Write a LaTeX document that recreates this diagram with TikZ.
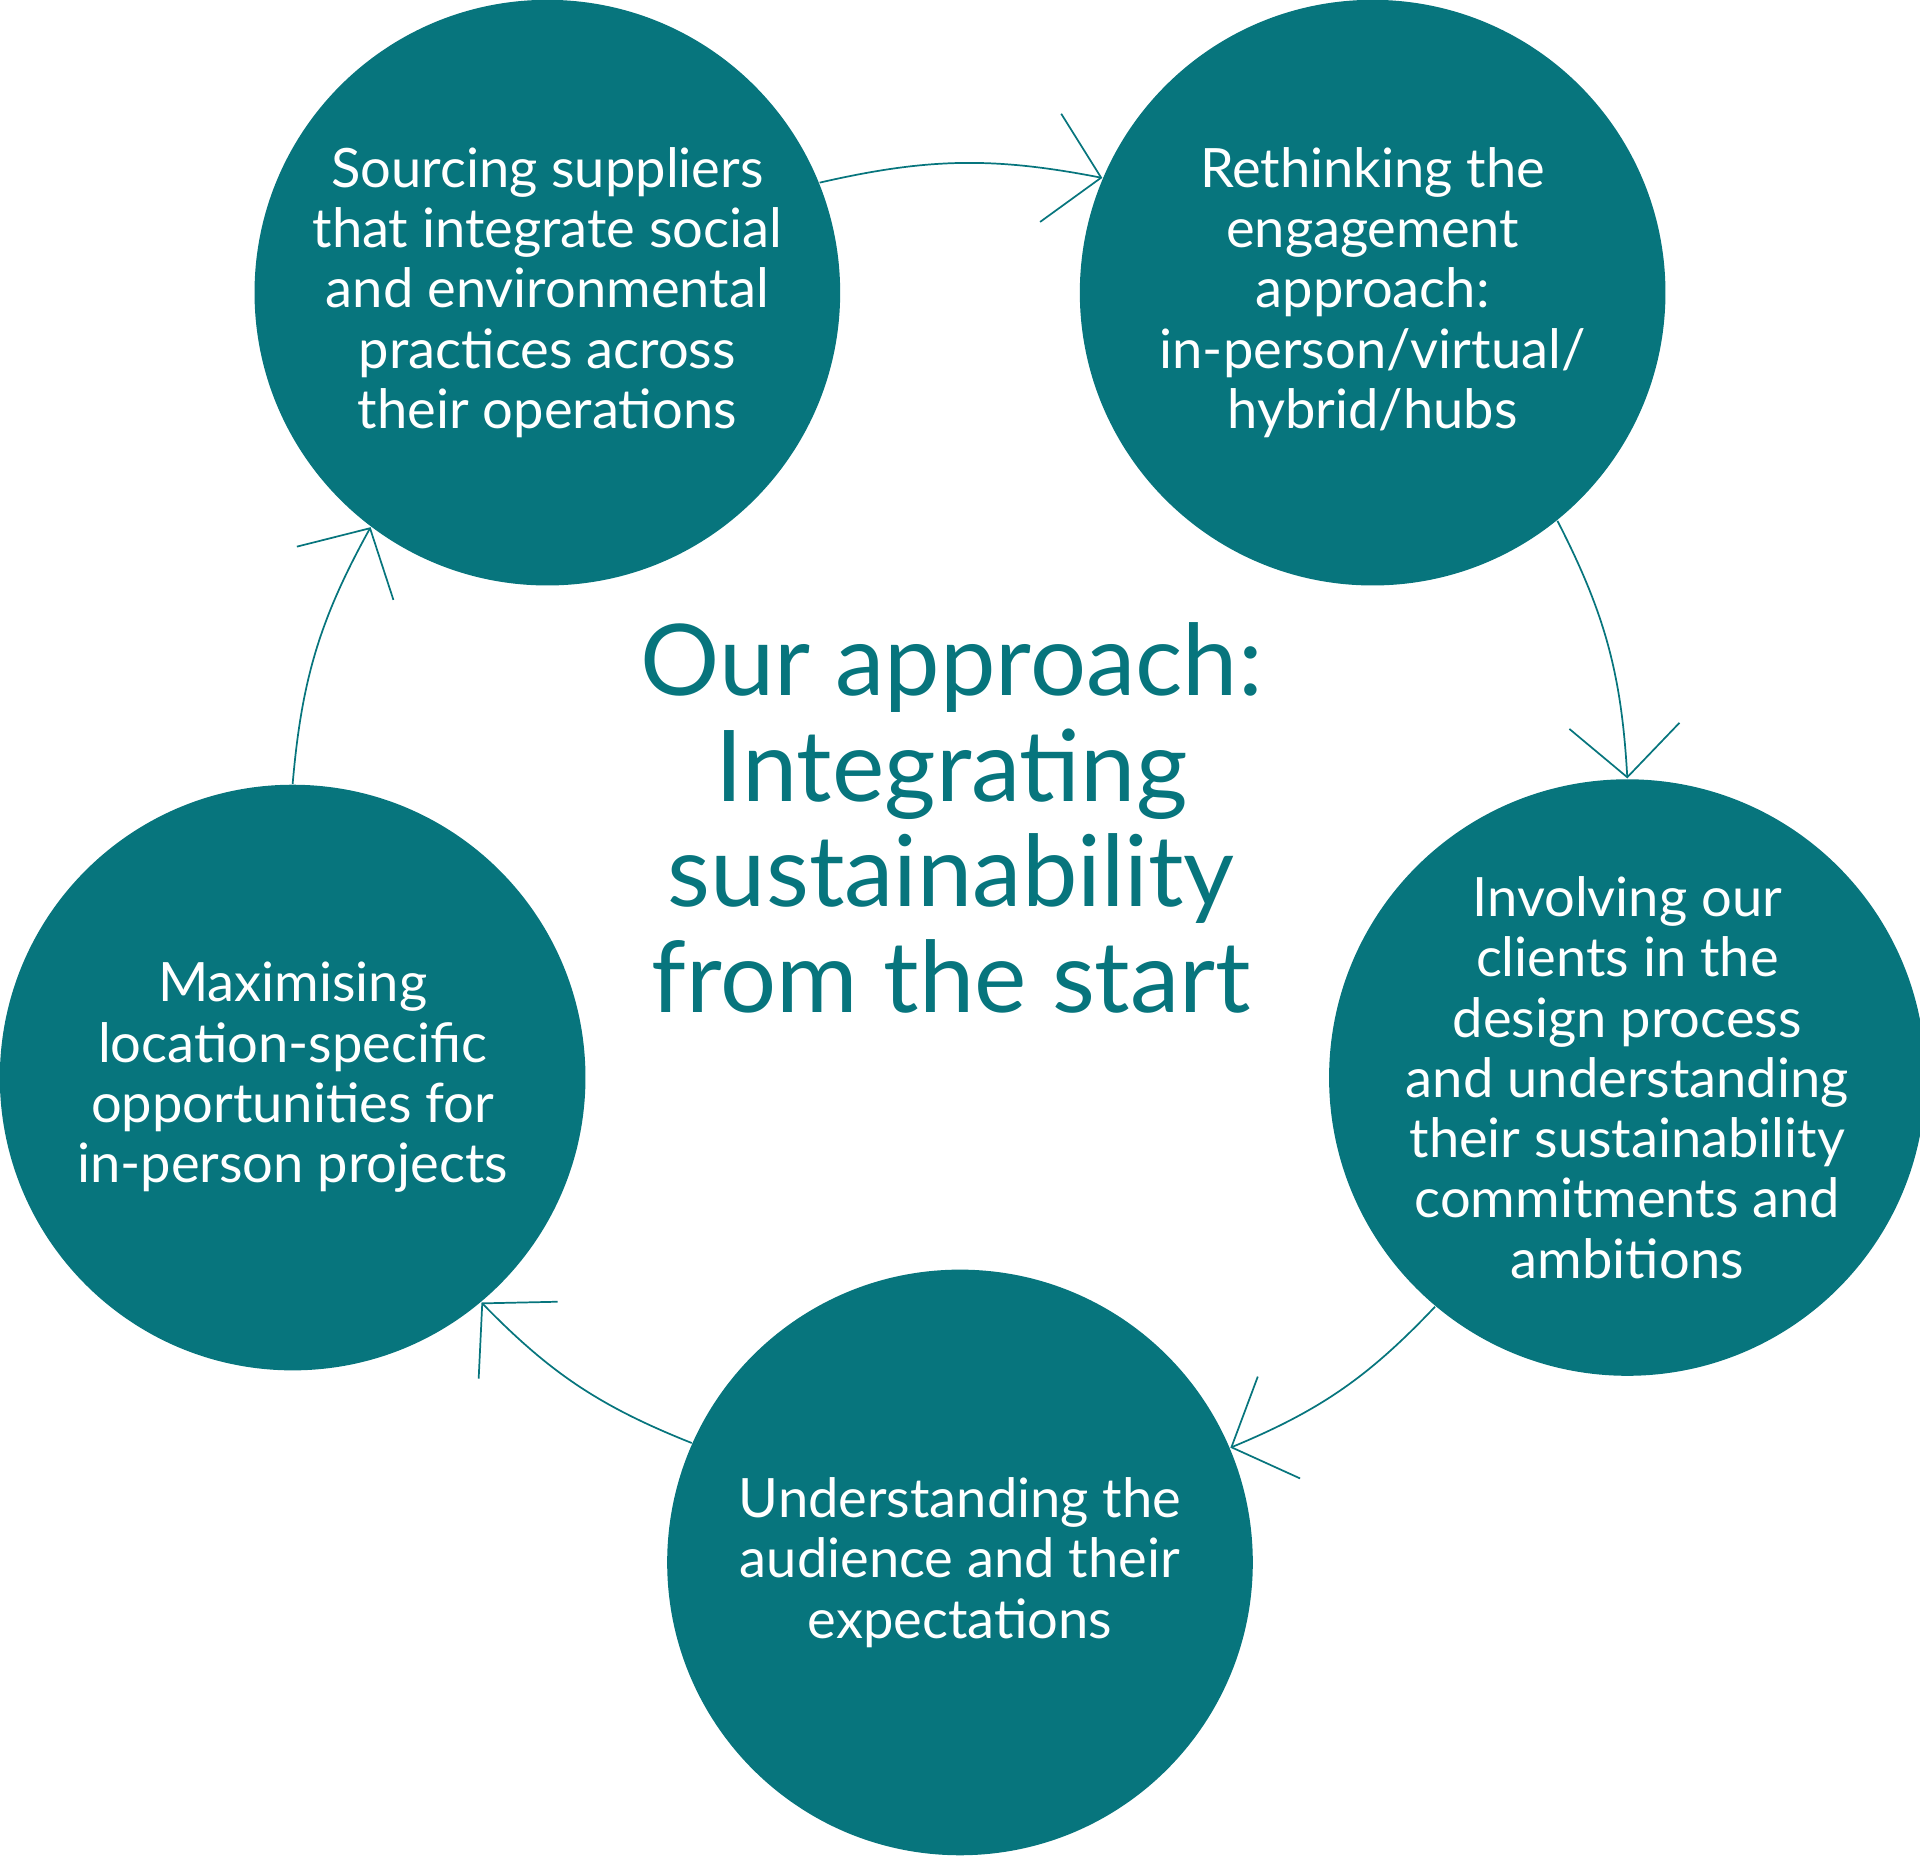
\documentclass[tikz,border=0pt]{standalone}
\usepackage{fontspec}
\setmainfont{Lato}
\usetikzlibrary{arrows.meta}
\definecolor{tealc}{HTML}{07757D}
\tikzset{
  stage/.style={circle, fill=tealc, minimum size=4.78cm, inner sep=0pt,
    text=white, align=center, font=\fontsize{12.6}{14}\selectfont},
  flow/.style={tealc, line width=0.4pt, bend left=12,
    -{Straight Barb[length=0.42cm, width=0.9cm, line width=0.4pt]}}
}
\begin{document}
\begin{tikzpicture}[x=0.01cm, y=-0.01cm]
        \useasboundingbox (0,0) rectangle (1568,1518);
        % stages
        \node[stage] (src) at (447,239) {Sourcing suppliers\\that integrate social\\and environmental\\practices across\\their operations};
        \node[stage] (eng) at (1121,239) {Rethinking the\\engagement\\approach:\\in-person/virtual/\\hybrid/hubs};
        \node[stage] (cli) at (1329,880) {Involving our\\clients in the\\design process\\and understanding\\their sustainability\\commitments and\\ambitions};
        \node[stage] (aud) at (784,1276) {Understanding the\\audience and their\\expectations};
        \node[stage] (loc) at (239,880) {Maximising\\location-specific\\opportunities for\\in-person projects};
        % title
        \node[text=tealc, align=center, font=\fontsize{23}{24.5}\selectfont] (title) at (777,668)
          {Our approach:\\Integrating\\sustainability\\from the start};
        % cycle
        \draw[flow] (src.22.8) to (eng.157.2);
        \draw[flow] (eng.-51.7) to (cli.90);
        \draw[flow] (cli.-130.4) to (aud.23.9);
        \draw[flow] (aud.156.1) to (loc.-50);
        \draw[flow] (loc.90) to (src.-127.6);
\end{tikzpicture}
\end{document}
